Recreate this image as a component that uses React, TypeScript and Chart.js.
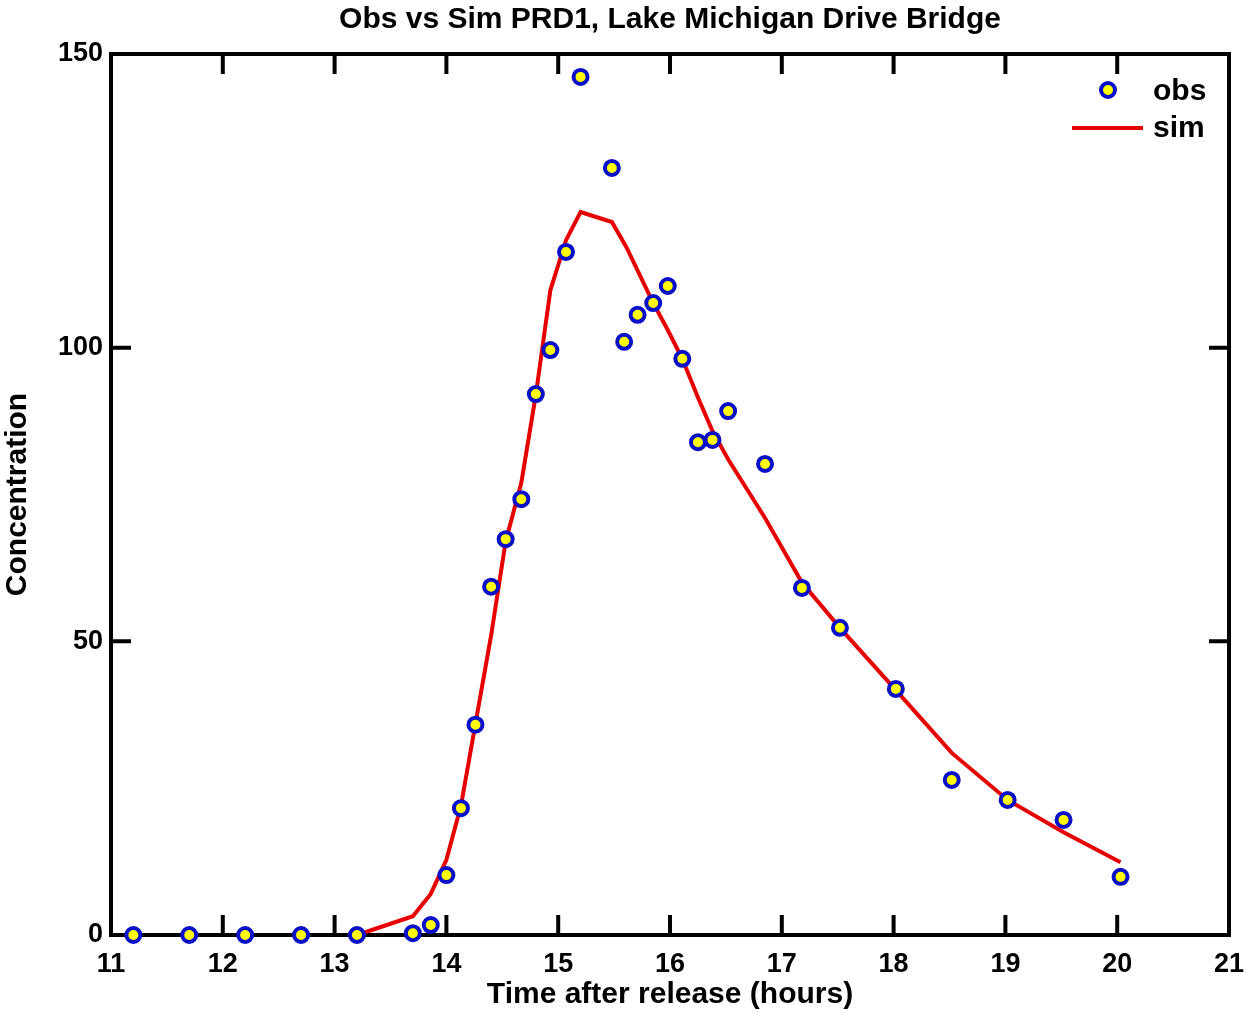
import React, { useEffect, useRef } from "react";
import { Chart, registerables } from "chart.js";

Chart.register(...registerables);

const obsTime = [11.2, 11.7, 12.2, 12.7, 13.2, 13.7, 13.86, 14.0, 14.13, 14.26, 14.4, 14.53, 14.67, 14.8, 14.93, 15.07, 15.2, 15.48, 15.59, 15.71, 15.85, 15.98, 16.11, 16.25, 16.38, 16.52, 16.85, 17.18, 17.52, 18.02, 18.52, 19.02, 19.52, 20.03];
const obsConc = [0, 0, 0, 0, 0, 0.3, 1.7, 10.2, 21.6, 35.8, 59.3, 67.4, 74.2, 92.1, 99.6, 116.3, 146.1, 130.6, 101.0, 105.6, 107.6, 110.5, 98.1, 83.9, 84.3, 89.2, 80.2, 59.1, 52.3, 41.9, 26.4, 23.0, 19.6, 9.9];

const simTime = [13.2, 13.7, 13.86, 14.0, 14.13, 14.26, 14.4, 14.53, 14.67, 14.8, 14.93, 15.07, 15.2, 15.48, 15.61, 15.85, 15.98, 16.11, 16.25, 16.38, 16.52, 16.85, 17.18, 17.52, 18.02, 18.52, 19.02, 19.52, 20.03];
const simConc = [0, 3.2, 7.0, 12.8, 22, 36, 51, 67, 77, 92, 109.8, 118.3, 123.1, 121.4, 117.1, 107.6, 103, 98.1, 91.5, 85.8, 81, 71, 60, 52.3, 41.7, 31, 23, 17.5, 12.4];

const xTicks = [11, 12, 13, 14, 15, 16, 17, 18, 19, 20, 21];
const yTicks = [0, 50, 100, 150];
const titleText = "Obs vs Sim PRD1, Lake Michigan Drive Bridge";

const FONT = "'Liberation Sans', Arial, Helvetica, sans-serif";
const BLUE = "#0a10c8";
const YELLOW = "#ffff00";
const RED = "#e60000";

export default function App() {
  const ref = useRef<HTMLCanvasElement | null>(null);
  useEffect(() => {
    document.body.style.margin = "0";
    const frame = {
      id: "frame",
      beforeDatasetsDraw(chart: any) {
        const { ctx, chartArea: a, scales } = chart;
        ctx.save();
        // title centred over plot area
        ctx.fillStyle = "#000";
        ctx.font = `bold 30px ${FONT}`;
        ctx.textAlign = "center";
        ctx.textBaseline = "middle";
        ctx.fillText(titleText, (a.left + a.right) / 2, 20);
        ctx.strokeStyle = "#000";
        ctx.lineWidth = 4;
        ctx.strokeRect(a.left, a.top, a.right - a.left, a.bottom - a.top);
        const tl = 20;
        scales.x.ticks.forEach((t: any) => {
          const px = scales.x.getPixelForValue(t.value);
          if (px <= a.left + 2 || px >= a.right - 2) return;
          ctx.beginPath();
          ctx.moveTo(px, a.bottom);
          ctx.lineTo(px, a.bottom - tl);
          ctx.moveTo(px, a.top);
          ctx.lineTo(px, a.top + tl);
          ctx.stroke();
        });
        scales.y.ticks.forEach((t: any) => {
          const py = scales.y.getPixelForValue(t.value);
          if (py <= a.top + 2 || py >= a.bottom - 2) return;
          ctx.beginPath();
          ctx.moveTo(a.left, py);
          ctx.lineTo(a.left + tl, py);
          ctx.moveTo(a.right, py);
          ctx.lineTo(a.right - tl, py);
          ctx.stroke();
        });
        ctx.restore();
      },
      afterDatasetsDraw(chart: any) {
        const { ctx, chartArea: a } = chart;
        ctx.save();
        const cx = a.right - 121;
        const cy = a.top + 36;
        ctx.beginPath();
        ctx.arc(cx, cy, 7, 0, Math.PI * 2);
        ctx.fillStyle = YELLOW;
        ctx.fill();
        ctx.lineWidth = 4;
        ctx.strokeStyle = BLUE;
        ctx.stroke();
        ctx.beginPath();
        ctx.strokeStyle = RED;
        ctx.lineWidth = 4;
        ctx.moveTo(a.right - 157, cy + 38);
        ctx.lineTo(a.right - 86, cy + 38);
        ctx.stroke();
        ctx.fillStyle = "#000";
        ctx.font = `bold 30px ${FONT}`;
        ctx.textBaseline = "middle";
        ctx.textAlign = "left";
        ctx.fillText("obs", a.right - 76, cy + 2);
        ctx.fillText("sim", a.right - 76, cy + 39);
        ctx.restore();
      },
    };
    const chart = new Chart(ref.current!, {
      type: "scatter",
      data: {
        datasets: [
          {
            label: "obs",
            data: obsTime.map((t, i) => ({ x: t, y: obsConc[i] })),
            showLine: false,
            pointRadius: 7,
            pointBorderWidth: 4,
            pointBackgroundColor: YELLOW,
            pointBorderColor: BLUE,
            clip: false as any,
          },
          {
            label: "sim",
            data: simTime.map((t, i) => ({ x: t, y: simConc[i] })),
            showLine: true,
            borderColor: RED,
            borderWidth: 4,
            pointRadius: 0,
            tension: 0,
            clip: false as any,
          },
        ],
      },
      options: {
        animation: false,
        responsive: false,
        layout: { padding: { left: 0, right: 18, bottom: 0, top: 54 } },
        plugins: {
          legend: { display: false },
          tooltip: { enabled: false },
          title: { display: false },
        },
        scales: {
          x: {
            type: "linear",
            min: 11,
            max: 21,
            afterBuildTicks: (s: any) => {
              s.ticks = xTicks.map((v) => ({ value: v }));
            },
            afterFit: (s: any) => {
              s.height = 78;
              s.paddingLeft = 0;
              s.paddingRight = 0;
            },
            grid: { display: false, drawTicks: false },
            border: { display: false },
            ticks: {
              color: "#000",
              padding: 13,
              font: { family: FONT, size: 27, weight: "bold" },
              maxRotation: 0,
              autoSkip: false,
            },
            title: {
              display: true,
              text: "Time after release (hours)",
              color: "#000",
              font: { family: FONT, size: 30, weight: "bold" },
              padding: { top: 0, bottom: 0 },
            },
          },
          y: {
            type: "linear",
            min: 0,
            max: 150,
            afterBuildTicks: (s: any) => {
              s.ticks = yTicks.map((v) => ({ value: v }));
            },
            afterFit: (s: any) => {
              s.width = 111;
              s.paddingTop = 0;
              s.paddingBottom = 0;
            },
            grid: { display: false, drawTicks: false },
            border: { display: false },
            ticks: {
              color: "#000",
              padding: 8,
              font: { family: FONT, size: 27, weight: "bold" },
            },
            title: {
              display: true,
              text: "Concentration",
              color: "#000",
              font: { family: FONT, size: 30, weight: "bold" },
              padding: { top: 0, bottom: 0 },
            },
          },
        },
      },
      plugins: [frame],
    } as any);
    return () => chart.destroy();
  }, []);
  return (
    <div style={{ position: "fixed", left: 0, top: 0, width: 1247, height: 1013, background: "#fff" }}>
      <canvas ref={ref} width={1247} height={1013} style={{ width: 1247, height: 1013 }} />
    </div>
  );
}
